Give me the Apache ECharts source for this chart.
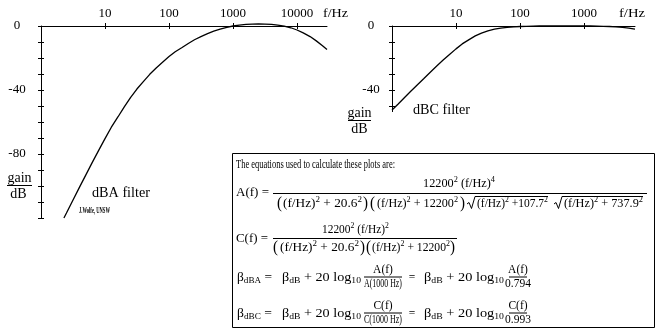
<!DOCTYPE html>
<html>
<head>
<meta charset="utf-8">
<script src="https://cdn.jsdelivr.net/npm/echarts@6/dist/echarts.min.js"></script>
<style>
  html, body { margin: 0; padding: 0; background: #fff; }
  #chart { width: 657px; height: 331px; }
</style>
</head>
<body>
<div id="chart"></div>
<script>
// A-weighting filter response: frequency (Hz) and gain (dB)
const aFreq = [2.28, 2.5, 3.15, 4, 5, 6.3, 8, 10, 12.5, 16, 20, 25, 31.5, 40, 50, 63, 80, 100,
  125, 160, 200, 250, 315, 400, 500, 630, 800, 1000, 1250, 1600, 2000, 2500, 3150, 4000,
  5000, 6300, 8000, 10000, 12500, 16000, 20000, 25000, 29400];
const aGain = [-120.0, -116.9, -108.9, -100.7, -93.2, -85.4, -77.6, -70.4, -63.4, -56.7, -50.5,
  -44.7, -39.4, -34.6, -30.2, -26.2, -22.5, -19.1, -16.1, -13.4, -10.9, -8.6, -6.6, -4.8, -3.2,
  -1.9, -0.8, 0, 0.6, 1.0, 1.2, 1.3, 1.2, 1.0, 0.5, -0.1, -1.1, -2.5, -4.3, -6.6, -9.3, -12.3, -14.7];

// C-weighting filter response
const cFreq = [1, 1.25, 1.6, 2, 2.5, 3.15, 4, 5, 6.3, 8, 10, 12.5, 16, 20, 25, 31.5, 40, 50, 63,
  80, 100, 125, 160, 200, 250, 315, 400, 500, 630, 800, 1000, 1250, 1600, 2000, 2500, 3150,
  4000, 5000, 6265];
const cGain = [-52.5, -48.7, -44.4, -40.5, -36.7, -32.8, -28.7, -25.0, -21.3, -17.6, -14.3, -11.2,
  -8.5, -6.2, -4.4, -3.0, -2.0, -1.3, -0.8, -0.5, -0.3, -0.2, -0.1, 0, 0, 0, 0, 0, 0, 0, 0, 0,
  -0.1, -0.2, -0.3, -0.5, -0.8, -1.3, -2.0];

// axis ticks and labels
const aFreqTicks = [10, 100, 1000, 10000];
const cFreqTicks = [10, 100, 1000];
const aGainTicks = [0, -10, -20, -30, -40, -50, -60, -70, -80, -90, -100, -110, -120];
const aGainLabels = [0, -40, -80];
const cGainTicks = [0, -10, -20, -30, -40, -50];
const cGainLabels = [0, -40];

const SERIF = "'Liberation Serif', 'Times New Roman', serif";
const BLACK = '#000';

function freqAxis(grid, max, ticks, outer) {
  return {
    type: 'log', logBase: 10, gridIndex: grid, position: 'top', min: 1, max: max,
    axisLine: { show: outer, onZero: false, lineStyle: { color: BLACK, width: 1 } },
    axisTick: { show: true, inside: !outer, length: 3, customValues: ticks, lineStyle: { color: BLACK, width: 1 } },
    axisLabel: { show: outer, customValues: ticks, margin: 6, color: BLACK,
      fontFamily: SERIF, fontSize: 13, formatter: v => String(v) },
    splitLine: { show: false }
  };
}

function gainAxis(grid, min, ticks, labels, margin, outer) {
  return {
    type: 'value', gridIndex: grid, position: 'left', min: min, max: 0,
    axisLine: { show: outer, onZero: false, lineStyle: { color: BLACK, width: 1 } },
    axisTick: { show: true, inside: !outer, length: 3, customValues: ticks, lineStyle: { color: BLACK, width: 1 } },
    axisLabel: { show: outer, customValues: labels, margin: margin, align: 'center', color: BLACK,
      fontFamily: SERIF, fontSize: 13, formatter: v => String(v) },
    splitLine: { show: false }
  };
}

// text measuring for the equation block
const measureCtx = document.createElement('canvas').getContext('2d');
function fontOf(size, weight) { return (weight || 'normal') + ' ' + size + 'px ' + SERIF; }
function widthOf(text, font) { measureCtx.font = font; return measureCtx.measureText(text).width; }

// lays a run of normal / superscript / subscript pieces between x0 and x1
function run(x0, x1, y, pieces, size, weight) {
  const parts = pieces.map(([t, k]) => {
    const s = k === 'n' ? size : size * 0.68;
    const dy = k === 'p' ? -size * 0.33 : (k === 'b' ? size * 0.3 : 0);
    const font = fontOf(s, weight);
    return { t, font, dy, w: widthOf(t, font) };
  });
  const total = parts.reduce((a, p) => a + p.w, 0);
  const k = (x1 - x0) / total;
  let x = x0;
  return parts.map(p => {
    const el = {
      type: 'text', x: x, y: y + p.dy, scaleX: k, silent: true,
      style: { text: p.t, font: p.font, fill: BLACK, align: 'left', verticalAlign: 'middle' }
    };
    x += p.w * k;
    return el;
  });
}

function ctext(x, y, text, size) {
  return { type: 'text', x: x, y: y, silent: true,
    style: { text: text, font: fontOf(size), fill: BLACK, align: 'center', verticalAlign: 'middle' } };
}

function hline(x1, x2, y) {
  return { type: 'line', silent: true, shape: { x1: x1, y1: y, x2: x2, y2: y },
    style: { stroke: BLACK, lineWidth: 1 } };
}

function sqrtSign(x, y, end) {
  return { type: 'polyline', silent: true,
    shape: { points: [[x, y + 0.5], [x + 2, y - 1], [x + 4.5, y + 5], [x + 8, y - 7], [end, y - 7]] },
    style: { stroke: BLACK, lineWidth: 1, fill: null } };
}

const FS = 11.5;
const P = 16;
const graphic = [];
const add = els => { (Array.isArray(els) ? els : [els]).forEach(e => graphic.push(e)); };

// axis captions and curve names
add(run(323, 348, 14, [['f/Hz', 'n']], 13));
add(run(619, 645, 14, [['f/Hz', 'n']], 13));
add(ctext(19.5, 178, 'gain', 14));
add(hline(7, 32, 185.5));
add(ctext(18.5, 194, 'dB', 14));
add(ctext(359.5, 113.5, 'gain', 14));
add(hline(348, 371, 120.5));
add(ctext(359.5, 129.5, 'dB', 14));
add(run(92, 150, 193, [['dBA filter', 'n']], 14));
add(run(413, 470, 110, [['dBC filter', 'n']], 14));
add(run(79, 110, 211.5, [['J.Wolfe, UNSW', 'n']], 7.5, 'bold'));

// equation box
add({ type: 'rect', silent: true, shape: { x: 232.5, y: 153.5, width: 422, height: 174 },
  style: { fill: null, stroke: BLACK, lineWidth: 1 } });
add(run(236, 395, 165, [['The equations used to calculate these plots are:', 'n']], FS));

// A(f)
add(run(236, 269, 193, [['A(f) =', 'n']], FS));
add(run(423, 495, 183.5, [['12200', 'n'], ['2', 'p'], [' (f/Hz)', 'n'], ['4', 'p']], FS));
add(hline(273, 647, 193.5));
let yd = 203.5;
add(run(277, 282, yd, [['(', 'n']], P));
add(run(283, 362, yd, [['(f/Hz)', 'n'], ['2', 'p'], [' + 20.6', 'n'], ['2', 'p']], FS));
add(run(363, 368, yd, [[')', 'n']], P));
add(run(370, 375, yd, [['(', 'n']], P));
add(run(377, 458, yd, [['(f/Hz)', 'n'], ['2', 'p'], [' + 12200', 'n'], ['2', 'p']], FS));
add(run(460, 465, yd, [[')', 'n']], P));
add(sqrtSign(467, yd, 548));
add(run(477, 548, yd, [['(f/Hz)', 'n'], ['2', 'p'], [' +107.7', 'n'], ['2', 'p']], FS));
add(sqrtSign(554, yd, 643));
add(run(564, 643, yd, [['(f/Hz)', 'n'], ['2', 'p'], [' + 737.9', 'n'], ['2', 'p']], FS));

// C(f)
add(run(236, 268, 238.5, [['C(f) =', 'n']], FS));
add(run(322, 389, 229.5, [['12200', 'n'], ['2', 'p'], [' (f/Hz)', 'n'], ['2', 'p']], FS));
add(hline(273, 457, 238.5));
yd = 247.5;
add(run(273, 278, yd, [['(', 'n']], P));
add(run(280, 359, yd, [['(f/Hz)', 'n'], ['2', 'p'], [' + 20.6', 'n'], ['2', 'p']], FS));
add(run(360, 365, yd, [[')', 'n']], P));
add(run(366, 371, yd, [['(', 'n']], P));
add(run(372, 450, yd, [['(f/Hz)', 'n'], ['2', 'p'], [' + 12200', 'n'], ['2', 'p']], FS));
add(run(450, 455, yd, [[')', 'n']], P));

// level conversions
function levelRow(y, sub, letter, ref) {
  add(run(237, 272, y, [['\u03b2', 'n'], [sub, 'b'], [' =', 'n']], FS));
  add(run(282, 361, y, [['\u03b2', 'n'], ['dB', 'b'], [' + 20 log', 'n'], ['10', 'b']], FS));
  add(ctext(383, y - 7.5, letter + '(f)', FS));
  add(hline(364, 402, y - 0.5));
  add(run(364, 402, y + 6, [[letter + '(1000 Hz)', 'n']], FS));
  add(ctext(412, y, '=', FS));
  add(run(424, 504, y, [['\u03b2', 'n'], ['dB', 'b'], [' + 20 log', 'n'], ['10', 'b']], FS));
  add(ctext(518, y - 7.5, letter + '(f)', FS));
  add(hline(509, 527, y - 0.5));
  add(ctext(518, y + 6, ref, FS));
}
levelRow(277.5, 'dBA', 'A', '0.794');
levelRow(313.5, 'dBC', 'C', '0.993');

const chart = echarts.init(document.getElementById('chart'), null, { renderer: 'canvas' });
chart.setOption({
  animation: false,
  backgroundColor: '#fff',
  grid: [
    { left: 41, top: 26, width: 286, height: 192 },
    { left: 392, top: 26, width: 243, height: 85.6 }
  ],
  xAxis: [
    freqAxis(0, 29400, aFreqTicks, true),
    freqAxis(0, 29400, aFreqTicks, false),
    freqAxis(1, 6265, cFreqTicks, true),
    freqAxis(1, 6265, cFreqTicks, false)
  ],
  yAxis: [
    gainAxis(0, -120, aGainTicks, aGainLabels, 24, true),
    gainAxis(0, -120, aGainTicks, aGainLabels, 24, false),
    gainAxis(1, -53.5, cGainTicks, cGainLabels, 21, true),
    gainAxis(1, -53.5, cGainTicks, cGainLabels, 21, false)
  ],
  series: [
    { type: 'line', xAxisIndex: 0, yAxisIndex: 0, data: aFreq.map((f, i) => [f, aGain[i]]),
      showSymbol: false, silent: true, clip: false, lineStyle: { color: BLACK, width: 1.3 } },
    { type: 'line', xAxisIndex: 2, yAxisIndex: 2, data: cFreq.map((f, i) => [f, cGain[i]]),
      showSymbol: false, silent: true, clip: false, lineStyle: { color: BLACK, width: 1.3 } }
  ],
  graphic: graphic
});
</script>
</body>
</html>
